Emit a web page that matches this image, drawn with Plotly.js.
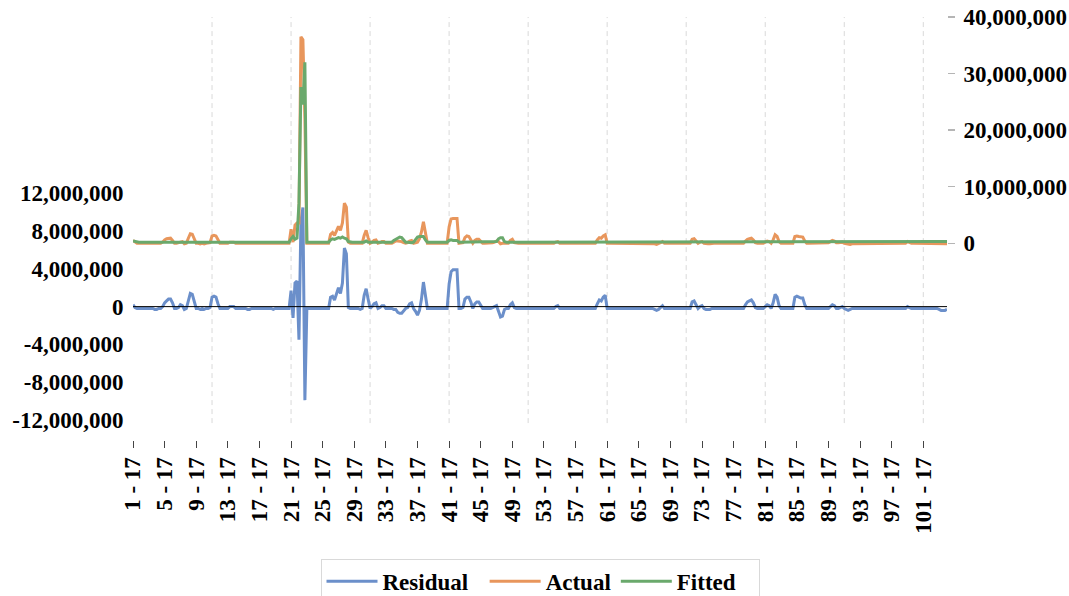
<!DOCTYPE html>
<html>
<head>
<meta charset="utf-8">
<script src="https://cdn.plot.ly/plotly-3.0.1.min.js"></script>
<style>html,body{margin:0;padding:0;background:#fff;}#chart{width:1069px;height:596px;}</style>
</head>
<body>
<div id="chart"></div>
<script>
// Observation labels shown on the x axis (one every 16 observations)
var xTickLabels = ["1 - 17","5 - 17","9 - 17","13 - 17","17 - 17","21 - 17","25 - 17","29 - 17","33 - 17","37 - 17","41 - 17","45 - 17","49 - 17","53 - 17","57 - 17","61 - 17","65 - 17","69 - 17","73 - 17","77 - 17","81 - 17","85 - 17","89 - 17","93 - 17","97 - 17","101 - 17"];
var leftTickVals = [-12000000,-8000000,-4000000,0,4000000,8000000,12000000];
var leftTickText = ["-12,000,000","-8,000,000","-4,000,000","0","4,000,000","8,000,000","12,000,000"];
var rightTickVals = [0,10000000,20000000,30000000,40000000];
var rightTickText = ["0","10,000,000","20,000,000","30,000,000","40,000,000"];
var seriesNames = ["Residual", "Actual", "Fitted"];

// Series values in millions, one per observation
var residualM = [
 0.2,-0.1,-0.2,-0.2,-0.2,-0.2,-0.2,-0.2,-0.2,-0.2,
 -0.2,-0.3,-0.3,-0.2,-0.2,0.0,0.4,0.6,0.8,0.8,
 0.4,-0.2,-0.2,-0.1,0.2,0.1,-0.3,-0.2,0.6,1.4,
 1.3,0.4,-0.2,-0.2,-0.3,-0.2,-0.3,-0.2,-0.2,-0.1,
 1.0,1.1,1.0,0.3,-0.2,-0.2,-0.2,-0.2,-0.2,0.0,
 0.0,0.0,-0.2,-0.2,-0.2,-0.2,-0.2,-0.2,-0.3,-0.3,
 -0.2,-0.2,-0.2,-0.2,-0.2,-0.2,-0.2,-0.2,-0.2,-0.2,
 -0.2,-0.3,-0.2,-0.2,-0.2,-0.2,-0.2,-0.2,-0.2,-0.2,
 1.7,-1.2,2.5,2.7,-3.5,9.0,10.5,-9.9,-0.2,-0.2,
 -0.2,-0.2,-0.2,-0.2,-0.2,-0.2,-0.2,-0.2,-0.2,-0.2,
 1.0,1.1,0.7,1.5,2.0,1.4,2.5,6.2,5.6,-0.1,
 -0.2,-0.2,-0.2,-0.2,-0.2,-0.3,-0.2,1.2,1.9,0.8,
 -0.2,0.0,0.3,0.4,-0.2,-0.1,0.1,0.1,-0.2,-0.2,
 -0.2,-0.2,-0.3,-0.3,-0.6,-0.7,-0.7,-0.4,-0.2,-0.1,
 0.3,0.4,-0.2,-0.5,-0.9,-0.4,0.8,2.6,1.0,-0.2,
 -0.2,-0.2,-0.2,-0.2,-0.2,-0.2,-0.2,-0.2,-0.2,-0.2,
 2.4,3.7,3.9,3.9,3.9,-0.2,-0.2,-0.1,0.8,1.0,
 1.0,0.5,-0.2,0.3,0.5,0.5,0.1,-0.2,-0.2,-0.2,
 -0.2,-0.2,-0.1,0.0,0.1,-0.5,-1.1,-1.0,-0.3,-0.2,
 -0.2,0.2,0.4,-0.1,-0.2,-0.2,-0.2,-0.2,-0.2,-0.2,
 -0.2,-0.2,-0.2,-0.2,-0.2,-0.2,-0.2,-0.2,-0.2,-0.2,
 -0.2,-0.2,-0.2,-0.2,0.0,0.1,-0.2,-0.2,-0.2,-0.2,
 -0.2,-0.2,-0.2,-0.2,-0.2,-0.2,-0.2,-0.2,-0.2,-0.2,
 -0.2,-0.2,-0.2,-0.2,-0.2,0.3,0.7,0.6,1.0,1.2,
 -0.2,-0.2,-0.2,-0.2,-0.2,-0.2,-0.2,-0.2,-0.2,-0.2,
 -0.2,-0.2,-0.2,-0.2,-0.2,-0.2,-0.2,-0.2,-0.2,-0.2,
 -0.2,-0.2,-0.2,-0.2,-0.3,-0.4,-0.3,-0.1,0.1,-0.2,
 -0.2,-0.2,-0.2,-0.2,-0.2,-0.2,-0.2,-0.2,-0.2,-0.2,
 -0.2,-0.2,-0.2,0.5,0.6,0.2,-0.2,0.0,0.1,-0.2,
 -0.3,-0.3,-0.3,-0.2,-0.2,-0.2,-0.2,-0.2,-0.2,-0.2,
 -0.2,-0.2,-0.2,-0.2,-0.2,-0.2,-0.2,-0.2,-0.2,-0.2,
 0.2,0.5,0.6,0.7,0.4,-0.1,-0.2,-0.2,-0.2,-0.2,
 0.0,0.2,0.1,-0.2,0.4,1.3,1.0,0.1,-0.2,-0.2,
 -0.2,-0.2,-0.2,-0.2,-0.2,1.0,1.1,1.0,0.9,0.9,
 0.2,-0.2,-0.2,-0.2,-0.2,-0.2,-0.2,-0.2,-0.2,-0.2,
 -0.2,-0.2,-0.2,0.0,0.2,0.1,-0.2,-0.2,-0.1,0.0,
 -0.2,-0.3,-0.4,-0.3,-0.2,-0.2,-0.2,-0.2,-0.2,-0.2,
 -0.2,-0.2,-0.2,-0.2,-0.2,-0.2,-0.2,-0.2,-0.2,-0.2,
 -0.2,-0.2,-0.2,-0.2,-0.2,-0.2,-0.2,-0.2,-0.2,-0.2,
 -0.2,-0.2,0.0,-0.1,-0.2,-0.2,-0.2,-0.2,-0.2,-0.2,
 -0.2,-0.2,-0.2,-0.2,-0.2,-0.2,-0.2,-0.2,-0.3,-0.4,
 -0.4,-0.4,-0.3
];
var actualM = [
 0.5,0.2,0.0,0.0,0.0,0.0,0.0,0.0,0.0,0.0,
 0.0,-0.1,-0.1,0.0,0.0,0.2,0.6,0.8,0.9,0.9,
 0.5,0.0,0.0,0.1,0.3,0.3,-0.1,0.0,0.9,1.7,
 1.6,0.6,0.0,0.0,-0.1,0.0,-0.1,0.0,0.0,0.1,
 1.3,1.4,1.3,0.5,0.0,0.0,0.0,0.0,0.0,0.2,
 0.2,0.2,0.0,0.0,0.0,0.0,0.0,0.0,-0.1,-0.1,
 0.0,0.0,0.0,0.0,0.0,0.0,0.0,0.0,0.0,0.0,
 0.0,-0.1,0.0,0.0,0.0,0.0,0.0,0.0,0.0,0.0,
 2.5,0.2,3.2,3.6,3.6,36.5,36.0,22.0,0.0,0.0,
 0.0,0.0,0.0,0.0,0.0,0.0,0.0,0.0,0.0,0.0,
 1.6,1.9,1.4,2.4,3.0,2.3,3.6,7.1,6.4,0.2,
 0.0,0.0,0.0,0.0,0.0,-0.1,0.0,1.4,2.3,1.0,
 0.0,0.2,0.5,0.6,0.0,0.1,0.3,0.3,0.0,0.0,
 0.0,0.0,0.2,0.4,0.4,0.4,0.3,0.1,0.0,0.1,
 0.4,0.5,0.0,0.1,0.2,0.8,2.0,3.8,1.6,0.0,
 0.0,0.0,0.0,0.0,0.0,0.0,0.0,0.0,0.0,0.0,
 2.9,4.3,4.4,4.4,4.4,0.0,0.0,0.1,1.0,1.3,
 1.2,0.7,0.0,0.5,0.7,0.7,0.3,0.0,0.0,0.0,
 0.0,0.0,0.1,0.2,0.4,0.3,-0.1,0.0,0.0,0.0,
 0.0,0.5,0.7,0.1,0.0,0.0,0.0,0.0,0.0,0.0,
 0.0,0.0,0.0,0.0,0.0,0.0,0.0,0.0,0.0,0.0,
 0.0,0.0,0.0,0.0,0.2,0.3,0.0,0.0,0.0,0.0,
 0.0,0.0,0.0,0.0,0.0,0.0,0.0,0.0,0.0,0.0,
 0.0,0.0,0.0,0.0,0.0,0.6,1.0,0.9,1.3,1.5,
 0.0,0.0,0.0,0.0,0.0,0.0,0.0,0.0,0.0,0.0,
 0.0,0.0,0.0,0.0,0.0,0.0,0.0,0.0,0.0,0.0,
 0.0,0.0,0.0,0.0,-0.1,-0.2,-0.1,0.1,0.3,0.0,
 0.0,0.0,0.0,0.0,0.0,0.0,0.0,0.0,0.0,0.0,
 0.0,0.0,0.0,0.7,0.8,0.4,0.0,0.2,0.3,0.0,
 -0.1,-0.1,-0.1,0.0,0.0,0.0,0.0,0.0,0.0,0.0,
 0.0,0.0,0.0,0.0,0.0,0.0,0.0,0.0,0.0,0.0,
 0.4,0.7,0.8,0.9,0.6,0.1,0.0,0.0,0.0,0.0,
 0.2,0.4,0.3,0.0,0.6,1.5,1.2,0.3,0.0,0.0,
 0.0,0.0,0.0,0.0,0.0,1.2,1.3,1.2,1.1,1.1,
 0.4,0.0,0.0,0.0,0.0,0.0,0.1,0.1,0.1,0.1,
 0.1,0.1,0.1,0.3,0.5,0.4,0.1,0.1,0.1,0.2,
 0.0,-0.1,-0.2,-0.2,-0.1,-0.1,-0.1,-0.1,-0.1,-0.1,
 -0.1,-0.1,0.0,0.0,0.0,0.0,0.0,0.0,0.0,0.0,
 0.0,0.0,0.0,0.0,0.0,0.0,0.0,0.0,0.0,0.0,
 0.0,0.0,0.3,0.1,0.0,0.0,0.0,0.0,0.0,0.0,
 0.0,0.0,0.0,0.0,0.0,0.0,0.0,0.0,-0.1,-0.1,
 -0.1,-0.1,-0.1
];
var fittedM = [
 0.4,0.3,0.2,0.2,0.2,0.2,0.2,0.2,0.2,0.2,
 0.2,0.2,0.2,0.2,0.2,0.2,0.2,0.2,0.2,0.2,
 0.2,0.2,0.2,0.2,0.2,0.2,0.2,0.2,0.3,0.3,
 0.3,0.2,0.2,0.2,0.2,0.2,0.2,0.2,0.2,0.2,
 0.3,0.3,0.3,0.2,0.2,0.2,0.2,0.2,0.2,0.2,
 0.2,0.2,0.2,0.2,0.2,0.2,0.2,0.2,0.2,0.2,
 0.2,0.2,0.2,0.2,0.2,0.2,0.2,0.2,0.2,0.2,
 0.2,0.2,0.2,0.2,0.2,0.2,0.2,0.2,0.2,0.2,
 0.8,1.2,0.7,0.9,7.1,27.6,24.5,32.0,0.2,0.2,
 0.2,0.2,0.2,0.2,0.2,0.2,0.2,0.2,0.2,0.2,
 0.6,0.8,0.7,0.9,1.0,0.9,1.1,0.9,0.8,0.3,
 0.2,0.2,0.2,0.2,0.2,0.2,0.2,0.2,0.4,0.2,
 0.2,0.2,0.2,0.2,0.2,0.2,0.2,0.2,0.2,0.2,
 0.2,0.2,0.5,0.7,1.0,1.1,1.0,0.5,0.2,0.2,
 0.1,0.1,0.2,0.6,1.1,1.2,1.2,1.2,0.6,0.2,
 0.2,0.2,0.2,0.2,0.2,0.2,0.2,0.2,0.2,0.2,
 0.5,0.6,0.5,0.5,0.5,0.2,0.2,0.2,0.2,0.3,
 0.2,0.2,0.2,0.2,0.2,0.2,0.2,0.2,0.2,0.2,
 0.2,0.2,0.2,0.2,0.3,0.8,1.0,1.0,0.3,0.2,
 0.2,0.3,0.3,0.2,0.2,0.2,0.2,0.2,0.2,0.2,
 0.2,0.2,0.2,0.2,0.2,0.2,0.2,0.2,0.2,0.2,
 0.2,0.2,0.2,0.2,0.2,0.2,0.2,0.2,0.2,0.2,
 0.2,0.2,0.2,0.2,0.2,0.2,0.2,0.2,0.2,0.2,
 0.2,0.2,0.2,0.2,0.2,0.3,0.3,0.3,0.3,0.3,
 0.2,0.2,0.2,0.2,0.2,0.2,0.2,0.2,0.2,0.2,
 0.2,0.2,0.2,0.2,0.2,0.2,0.2,0.2,0.2,0.2,
 0.2,0.2,0.2,0.2,0.2,0.2,0.2,0.2,0.2,0.2,
 0.2,0.2,0.2,0.2,0.2,0.2,0.2,0.2,0.2,0.2,
 0.2,0.2,0.2,0.2,0.2,0.2,0.2,0.2,0.2,0.2,
 0.2,0.2,0.2,0.2,0.2,0.2,0.2,0.2,0.2,0.2,
 0.2,0.2,0.2,0.2,0.2,0.2,0.2,0.2,0.2,0.2,
 0.2,0.2,0.2,0.2,0.2,0.2,0.2,0.2,0.2,0.2,
 0.2,0.2,0.2,0.2,0.2,0.2,0.2,0.2,0.2,0.2,
 0.2,0.2,0.2,0.2,0.2,0.2,0.2,0.2,0.2,0.2,
 0.2,0.2,0.2,0.2,0.2,0.2,0.3,0.3,0.3,0.3,
 0.3,0.3,0.3,0.3,0.3,0.3,0.3,0.2,0.2,0.2,
 0.2,0.2,0.2,0.2,0.2,0.2,0.2,0.2,0.2,0.2,
 0.2,0.2,0.2,0.2,0.2,0.2,0.2,0.2,0.2,0.2,
 0.2,0.2,0.2,0.2,0.2,0.2,0.2,0.2,0.2,0.2,
 0.2,0.2,0.2,0.2,0.2,0.2,0.2,0.2,0.2,0.2,
 0.2,0.2,0.2,0.2,0.2,0.2,0.2,0.2,0.2,0.3,
 0.3,0.3,0.3
];

var MILLION = 1e6;
var obs = residualM.map(function (_, i) { return i; });
var toUnits = function (arr) { return arr.map(function (v) { return v * MILLION; }); };
var tickObs = xTickLabels.map(function (_, k) { return k * 16; });
var gridObs = [40, 80, 120, 160, 200, 240, 280, 320, 360, 400];

var FONT = '"Liberation Serif", "Times New Roman", Times, serif';
var tickFont = {family: FONT, size: 23, color: '#000', weight: 700};
var NB = '\u00a0';

var traces = [
  {x: obs, y: toUnits(residualM), name: seriesNames[0] + NB + NB, type: 'scatter', mode: 'lines', yaxis: 'y',
   line: {color: '#6b8fca', width: 3}, hoverinfo: 'skip'},
  {x: obs, y: toUnits(actualM), name: seriesNames[1], type: 'scatter', mode: 'lines', yaxis: 'y2',
   line: {color: '#e8965c', width: 3}, hoverinfo: 'skip'},
  {x: obs, y: toUnits(fittedM), name: seriesNames[2] + NB + NB + NB, type: 'scatter', mode: 'lines', yaxis: 'y2',
   line: {color: '#6aa96c', width: 3}, hoverinfo: 'skip'}
];

var shapes = gridObs.map(function (g) {
  return {type: 'line', xref: 'x', yref: 'paper', x0: g, x1: g, y0: 0.04, y1: 1, layer: 'below',
          line: {color: '#d9d9d9', width: 1, dash: '5px,4px'}};
});
shapes.push({type: 'line', xref: 'paper', yref: 'y', x0: 0, x1: 1, y0: 0, y1: 0, layer: 'above',
             line: {color: '#000', width: 1}});

var layout = {
  width: 1069, height: 596,
  margin: {l: 133, r: 122, t: 17, b: 156, pad: 0},
  paper_bgcolor: '#fff', plot_bgcolor: '#fff',
  showlegend: true,
  font: {family: FONT, color: '#000'},
  xaxis: {
    range: [0, obs.length - 1], showgrid: false, zeroline: false, showline: false,
    tickmode: 'array', tickvals: tickObs, ticktext: xTickLabels, tickangle: -90,
    ticks: 'outside', ticklen: 7, tickwidth: 1, tickcolor: '#444', tickfont: tickFont
  },
  yaxis: {
    range: [-14.12e6, 30.66e6], showgrid: false, zeroline: false, showline: false,
    tickmode: 'array', tickvals: leftTickVals, ticktext: leftTickText,
    ticks: 'outside', ticklen: 4, tickcolor: 'rgba(0,0,0,0)', tickfont: tickFont
  },
  yaxis2: {
    range: [-34.77e6, 40e6], overlaying: 'y', side: 'right', showgrid: false, zeroline: false, showline: false,
    tickmode: 'array', tickvals: rightTickVals, ticktext: rightTickText,
    ticks: 'outside', ticklen: 7, tickwidth: 1.5, tickcolor: '#b5b5b5', ticklabelstandoff: 4, tickfont: tickFont
  },
  legend: {
    orientation: 'h', xref: 'paper', x: 0.5, xanchor: 'center', yref: 'container', y: 0.0625, yanchor: 'top',
    bordercolor: '#d9d9d9', borderwidth: 1, bgcolor: '#fff', itemwidth: 51,
    font: {family: FONT, size: 23, color: '#000', weight: 700}
  },
  shapes: shapes
};

Plotly.newPlot('chart', traces, layout, {displayModeBar: false, staticPlot: true});
</script>
</body>
</html>
